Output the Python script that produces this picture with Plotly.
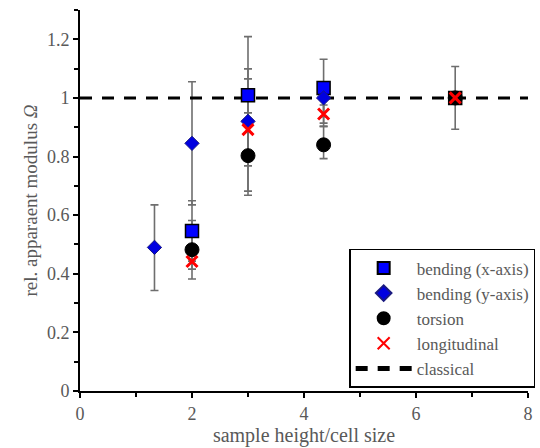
import plotly.graph_objects as go

# ---- data ----
bx_x = [2, 3, 4.35, 6.7]
bx_y = [0.546, 1.009, 1.034, 1.0]
bx_ep = [0.103, 0.20, 0.098, 0.107]
bx_em = [0.103, 0.20, 0.098, 0.107]

by_x = [1.33, 2, 3, 4.35]
by_y = [0.49, 0.845, 0.92, 1.0]
by_ep = [0.145, 0.21, 0.145, 0.02]
by_em = [0.147, 0.21, 0.152, 0.097]

to_x = [2, 3, 4.35, 6.7]
to_y = [0.482, 0.803, 0.840, 1.0]
to_ep = [0.10, 0.146, 0.063, 0.0]
to_em = [0.10, 0.135, 0.047, 0.0]

lo_x = [2, 3, 4.35, 6.7]
lo_y = [0.442, 0.892, 0.945, 1.0]
lo_ep = [0.026, 0.207, 0.031, 0.0]
lo_em = [0.026, 0.210, 0.031, 0.0]

cl_x = [0, 8]
cl_y = [1, 1]

names = ["bending (x-axis)", "bending (y-axis)", "torsion", "longitudinal", "classical"]

FONT = "Liberation Serif"
TXT = "#595959"
ERR = "#6e6e6e"

fig = go.Figure()

# error bars (drawn first, under the reference line and markers)
for xs, ys, ep, em in [(bx_x, bx_y, bx_ep, bx_em), (by_x, by_y, by_ep, by_em),
                       (to_x, to_y, to_ep, to_em), (lo_x, lo_y, lo_ep, lo_em)]:
    fig.add_trace(go.Scatter(
        x=xs, y=ys, mode="markers", showlegend=False, hoverinfo="skip",
        marker=dict(size=1, opacity=0),
        error_y=dict(type="data", array=ep, arrayminus=em, symmetric=False,
                     color=ERR, thickness=1.6, width=4)))

# classical reference line
fig.add_trace(go.Scatter(
    x=cl_x, y=cl_y, mode="lines", name=names[4], legendrank=5,
    line=dict(color="black", width=3, dash="12px,10px")))

fig.add_trace(go.Scatter(
    x=bx_x, y=bx_y, mode="markers", name=names[0], legendrank=1,
    marker=dict(symbol="square", size=13,
                color=["#0000ff", "#0000ff", "#0000ff", "black"],
                line=dict(color="black", width=1.5))))
fig.add_trace(go.Scatter(
    x=by_x, y=by_y, mode="markers", name=names[1], legendrank=2,
    marker=dict(symbol="diamond", size=11, color="#0000e0",
                line=dict(color="#1a1a80", width=1))))
fig.add_trace(go.Scatter(
    x=to_x, y=to_y, mode="markers", name=names[2], legendrank=3,
    marker=dict(symbol="circle", size=14, color="black",
                line=dict(color="black", width=1))))
fig.add_trace(go.Scatter(
    x=lo_x, y=lo_y, mode="markers", name=names[3], legendrank=4,
    marker=dict(symbol="x-thin", size=11, color="red",
                line=dict(color="red", width=3))))

fig.update_layout(
    width=540, height=448,
    margin=dict(l=80, r=12, t=10, b=57, autoexpand=False),
    paper_bgcolor="white", plot_bgcolor="white",
    font=dict(family=FONT, color=TXT, size=18),
    legend=dict(x=1.016, y=0.008, xanchor="right", yanchor="bottom",
                bordercolor="black", borderwidth=1.5, bgcolor="white",
                font=dict(family=FONT, size=17, color=TXT),
                itemsizing="constant",
                tracegroupgap=0, itemwidth=56),
    xaxis=dict(range=[0, 8], dtick=2, tick0=0, showgrid=False, zeroline=False,
               showline=True, linecolor="black", linewidth=2,
               ticks="outside", ticklen=5, tickwidth=1.5, tickcolor="black",
               minor=dict(dtick=1, ticks="outside", ticklen=4, tickcolor="black", tickwidth=1.5),
               title=dict(text="sample height/cell size", font=dict(size=20, family=FONT, color=TXT), standoff=2),
               tickfont=dict(size=18, family=FONT, color=TXT)),
    yaxis=dict(range=[0, 1.3], dtick=0.2, tick0=0, showgrid=False, zeroline=False,
               showline=True, linecolor="black", linewidth=2,
               ticks="outside", ticklen=5, tickwidth=1.5, tickcolor="black",
               minor=dict(dtick=0.1, ticks="outside", ticklen=4, tickcolor="black", tickwidth=1.5),
               title=dict(text="rel. apparaent modulus <i>Ω</i>", font=dict(size=19, family=FONT, color=TXT), standoff=4),
               tickfont=dict(size=18, family=FONT, color=TXT)),
)

fig.write_html("out.html")
